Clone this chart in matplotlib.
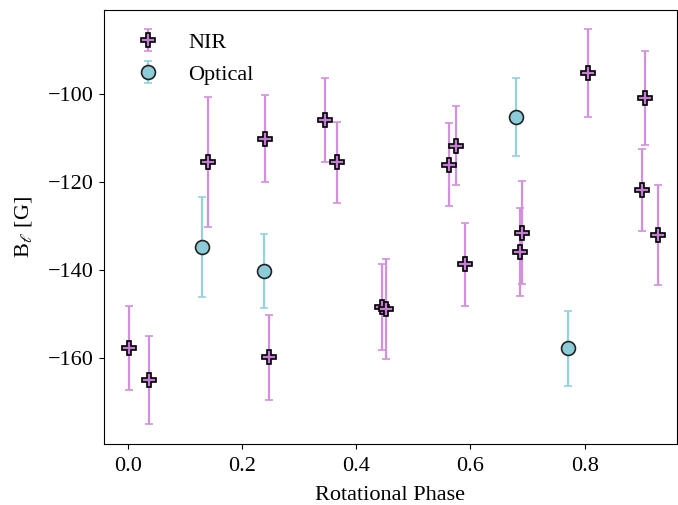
import matplotlib.pyplot as plt

plt.rcParams['font.family'] = ['Liberation Serif', 'DejaVu Serif']
plt.rcParams['mathtext.fontset'] = 'stix'

# NIR measurements
nir_phase = [0.002, 0.037, 0.140, 0.241, 0.346, 0.366, 0.247, 0.446, 0.453,
             0.562, 0.574, 0.806, 0.906, 0.900, 0.929, 0.590, 0.690, 0.686]
nir_b = [-157.7, -165.0, -115.5, -110.1, -105.9, -115.5, -159.8, -148.3, -148.9,
         -116.0, -111.7, -95.2, -100.8, -121.8, -132.0, -138.7, -131.5, -135.8]
nir_err = [9.6, 10.0, 14.8, 9.8, 9.5, 9.2, 9.7, 9.8, 11.4,
           9.5, 9.0, 9.9, 10.7, 9.3, 11.4, 9.4, 11.7, 10.0]

# optical measurements
opt_phase = [0.130, 0.238, 0.680, 0.771]
opt_b = [-134.7, -140.2, -105.2, -157.8]
opt_err = [11.3, 8.3, 8.9, 8.5]

fig, ax = plt.subplots(figsize=(6.78, 5.05), dpi=100)
fig.subplots_adjust(left=0.153, right=0.998, top=0.980, bottom=0.121)

ax.errorbar(nir_phase, nir_b, yerr=nir_err, fmt='P', ms=10,
            mfc='#c27fd0', mec='black', mew=1.2, ecolor='#d290de',
            elinewidth=1.6, capsize=3, capthick=1.4, label='NIR')
ax.errorbar(opt_phase, opt_b, yerr=opt_err, fmt='o', ms=10,
            mfc='#8ccbd8', mec='#222222', mew=1.2, ecolor='#93d2de',
            elinewidth=1.6, capsize=3, capthick=1.4, label='Optical')

ax.set_xlim(-0.042, 0.961)
ax.set_ylim(-179.5, -80.9)
ax.set_yticks([-160, -140, -120, -100])
ax.set_xticks([0.0, 0.2, 0.4, 0.6, 0.8])
ax.tick_params(labelsize=16)
ax.tick_params(axis='x', pad=6)

ax.set_xlabel('Rotational Phase', fontsize=16, labelpad=7)
ax.set_ylabel(r'B$_\ell$ [G]', fontsize=16, labelpad=10)

ax.legend(loc='upper left', frameon=False, fontsize=16, handletextpad=0.8,
          labelspacing=0.5, borderaxespad=0.6)

fig.savefig('out.png', dpi=100)
